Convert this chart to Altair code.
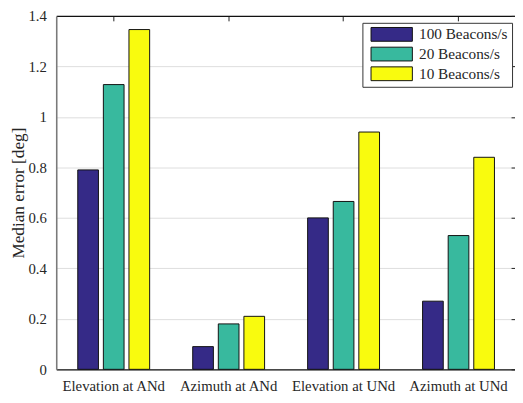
import altair as alt
import pandas as pd

categories = ["Elevation at ANd", "Azimuth at ANd", "Elevation at UNd", "Azimuth at UNd"]
series = ["100 Beacons/s", "20 Beacons/s", "10 Beacons/s"]
values_100 = [0.79, 0.09, 0.60, 0.27]
values_20 = [1.128, 0.18, 0.665, 0.53]
values_10 = [1.346, 0.21, 0.94, 0.84]
colors = ["#352A87", "#38B99E", "#F9FB0E"]
y_ticks = [0, 0.2, 0.4, 0.6, 0.8, 1.0, 1.2, 1.4]

rows = []
for s, vals in zip(series, [values_100, values_20, values_10]):
    for c, v in zip(categories, vals):
        rows.append({"Category": c, "Series": s, "value": v})
df = pd.DataFrame(rows)

FONT = "Liberation Serif"
TXT = "#262626"

x_scale = alt.Scale(domain=categories, range=[0, 467], paddingInner=0, paddingOuter=0)
y_scale = alt.Scale(domain=[0, 1.4], nice=False, zero=True)

base = alt.Chart(df)

bars = base.mark_bar(stroke="#111111", strokeWidth=1).encode(
    x=alt.X("Category:N", scale=x_scale, sort=categories,
            axis=alt.Axis(orient="bottom", title=None, labelAngle=0, ticks=False,
                          domainColor="#111111", domainWidth=1.2, labelPadding=9,
                          labelFont=FONT, labelFontSize=15, labelColor=TXT)),
    xOffset=alt.XOffset("Series:N", sort=series,
                        scale=alt.Scale(domain=series, paddingInner=0.192, paddingOuter=0.841)),
    y=alt.Y("value:Q", scale=y_scale,
            axis=alt.Axis(orient="left", title="Median error [deg]", values=y_ticks, format="~g",
                          ticks=False, grid=True, gridColor="#dddddd", gridWidth=1,
                          domainColor="#7a7a7a", domainWidth=1.6, labelPadding=10,
                          labelFont=FONT, labelFontSize=15, labelColor=TXT,
                          titleFont=FONT, titleFontSize=17.5, titleFontWeight="normal",
                          titleColor=TXT, titlePadding=0)),
    color=alt.Color("Series:N", sort=series,
                    scale=alt.Scale(domain=series, range=colors),
                    legend=alt.Legend(title=None, orient="none", legendX=311, legendY=7,
                                      symbolType="M-3,-1H3V1H-3Z", symbolSize=196,
                                      symbolStrokeColor="#111111", symbolStrokeWidth=1,
                                      labelFont=FONT, labelFontSize=15.5, labelColor=TXT,
                                      labelOffset=20, rowPadding=1, padding=4, symbolOffset=18)),
)

ticks_layer = base.mark_bar(opacity=0).encode(
    x=alt.X("Category:N", scale=x_scale, sort=categories,
            axis=alt.Axis(orient="top", title=None, labels=False, domain=False,
                          ticks=True, tickSize=5, offset=-5, tickColor="#222222", tickWidth=1)),
    y=alt.Y("value:Q", scale=y_scale,
            axis=alt.Axis(orient="right", title=None, labels=False, domain=False, grid=False,
                          values=y_ticks, ticks=True, tickSize=5, offset=-4,
                          tickColor="#222222", tickWidth=1)),
)

top_layer = base.mark_bar(opacity=0).encode(
    x=alt.X("Category:N", scale=x_scale, sort=categories,
            axis=alt.Axis(orient="top", title=None, labels=False, ticks=False,
                          domain=True, domainColor="#111111", domainWidth=1.2)),
    y=alt.Y("value:Q", scale=y_scale, axis=None),
)

chart = alt.layer(bars, ticks_layer, top_layer).resolve_axis(
    x="independent", y="independent"
).properties(
    width=466, height=359,
    autosize=alt.AutoSizeParams(type="none"),
    padding={"left": 49, "top": 5, "right": 0, "bottom": 22},
).configure(font=FONT).configure_view(
    strokeWidth=0
).configure_legend(
    strokeColor="#333333", strokeWidth=1, fillColor="white", cornerRadius=0
)

chart.save("out.html", embed_options={"renderer": "svg", "actions": False})
